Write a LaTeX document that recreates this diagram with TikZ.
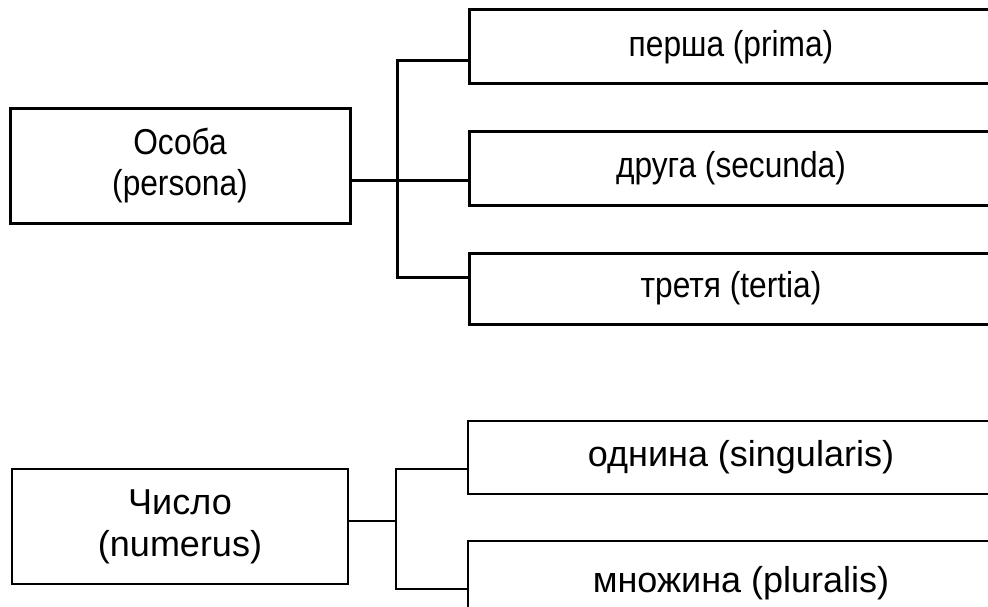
\documentclass[tikz,border=0pt]{standalone}
\usepackage{fontspec}
\setmainfont{Liberation Sans}
\newfontfamily\narrowfont[FakeStretch=0.88]{Liberation Sans}
\begin{document}
\begin{tikzpicture}[x=1pt,y=-1pt,
  heavybox/.style={draw, line width=3pt, outer sep=0pt, inner sep=0pt,
    align=center, font=\narrowfont\fontsize{36}{41}\selectfont},
  lightbox/.style={draw, line width=1.3pt, outer sep=0pt, inner sep=0pt,
    align=center, font=\fontsize{36}{42}\selectfont},
  heavyline/.style={line width=3pt},
  lightline/.style={line width=1.3pt}]
\clip (0,0) rectangle (988,607);

% Person: category box and its three values
\node[heavybox, minimum width=340pt, minimum height=114pt] (osoba) at (180,166) {Особа\\(persona)};
\node[heavybox, minimum width=524pt, minimum height=74pt] (p1) at (731,47) {перша (prima)};
\node[heavybox, minimum width=524pt, minimum height=73pt] (p2) at (731,168.5) {друга (secunda)};
\node[heavybox, minimum width=524pt, minimum height=71pt] (p3) at (731,288.5) {третя (tertia)};

\coordinate (j1) at (397,61);
\coordinate (j3) at (397,277);
\draw[heavyline] ([yshift=-14pt]p1.west) -- (j1) -- (j3) -- ([yshift=11.5pt]p3.west);
\draw[heavyline] ([yshift=-14pt]osoba.east) -- ([yshift=-11.5pt]p2.west);

% Number: category box and its two values
\node[lightbox, minimum width=336pt, minimum height=115pt] (chyslo) at (180,526.5) {Число\\(numerus)};
\node[lightbox, minimum width=546pt, minimum height=73pt] (s1) at (741,457.5) {однина (singularis)};
\node[lightbox, minimum width=546pt, minimum height=85pt] (s2) at (741,583.5) {множина (pluralis)};

\coordinate (k1) at (396,469);
\coordinate (km) at (396,521);
\coordinate (k2) at (396,589);
\draw[lightline] ([yshift=-11.5pt]s1.west) -- (k1) -- (k2) -- ([yshift=-5.5pt]s2.west);
\draw[lightline] ([yshift=5.5pt]chyslo.east) -- (km);
\end{tikzpicture}
\end{document}
